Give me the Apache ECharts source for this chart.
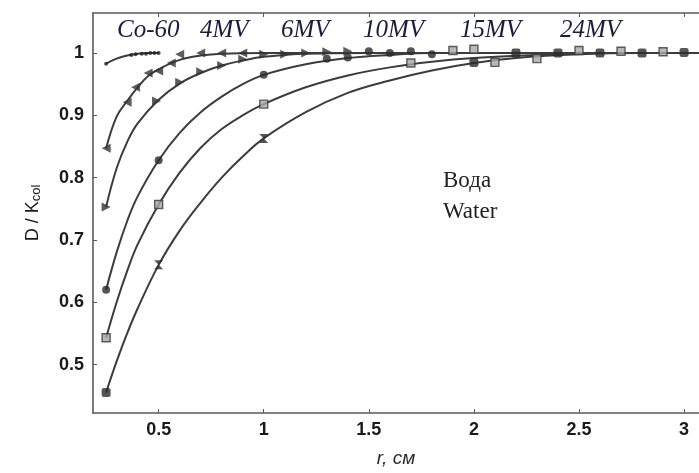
<!DOCTYPE html>
<html><head><meta charset="utf-8">
<script src="https://cdn.jsdelivr.net/npm/echarts@6/dist/echarts.min.js"></script>
<style>html,body{margin:0;padding:0;background:#fff}#c{width:699px;height:473px}</style>
</head><body><div id="c"></div>
<script>
// Tick labels
const xTicks = [0.5, 1, 1.5, 2, 2.5, 3];
const yTicks = [0.5, 0.6, 0.7, 0.8, 0.9, 1];
const beamLabels = ['Co-60', '4MV', '6MV', '10MV', '15MV', '24MV'];

// Fitted curves
const fitCoR = [0.25, 0.3, 0.35, 0.4, 0.45, 0.5];
const fitCoD = [0.983, 0.991, 0.996, 0.999, 1.0, 1.0];
const fit4R = [0.25, 0.3, 0.35, 0.4, 0.45, 0.5, 0.6, 0.7, 0.8, 1.0, 1.5, 2, 2.5, 3.07];
const fit4D = [0.847, 0.898, 0.923, 0.945, 0.963, 0.974, 0.989, 0.996, 0.999, 1.0, 1.0, 1.0, 1.0, 1.0];
const fit6R = [0.25, 0.3, 0.35, 0.4, 0.5, 0.6, 0.7, 0.8, 0.9, 1.0, 1.2, 1.5, 2, 3.07];
const fit6D = [0.753, 0.815, 0.857, 0.887, 0.925, 0.951, 0.968, 0.98, 0.988, 0.994, 0.999, 1.0, 1.0, 1.0];
const fit10R = [0.25, 0.3, 0.35, 0.4, 0.5, 0.6, 0.7, 0.8, 0.9, 1.0, 1.2, 1.4, 1.6, 1.8, 2.2, 3.07];
const fit10D = [0.62, 0.68, 0.73, 0.77, 0.828, 0.872, 0.905, 0.93, 0.95, 0.965, 0.982, 0.992, 0.997, 1.0, 1.0, 1.0];
const fit15R = [0.25, 0.3, 0.35, 0.4, 0.5, 0.6, 0.7, 0.8, 0.9, 1.0, 1.2, 1.4, 1.6, 1.8, 2.0, 2.3, 2.6, 3.07];
const fit15D = [0.543, 0.6, 0.65, 0.693, 0.757, 0.808, 0.848, 0.878, 0.9, 0.918, 0.945, 0.964, 0.977, 0.986, 0.992, 0.997, 1.0, 1.0];
const fit24R = [0.25, 0.3, 0.35, 0.4, 0.5, 0.6, 0.7, 0.8, 0.9, 1.0, 1.2, 1.4, 1.6, 1.8, 2.0, 2.2, 2.5, 2.8, 3.07];
const fit24D = [0.455, 0.505, 0.55, 0.59, 0.66, 0.715, 0.76, 0.8, 0.834, 0.863, 0.905, 0.936, 0.956, 0.972, 0.984, 0.992, 0.998, 1.0, 1.0];

// Measured points
const mCoR = [0.25, 0.37, 0.39, 0.42, 0.44, 0.46, 0.48, 0.5];
const mCoD = [0.983, 0.997, 0.998, 0.999, 0.999, 1.0, 1.0, 1.0];
const m4R = [0.25, 0.35, 0.39, 0.45, 0.5, 0.56, 0.6, 0.7, 0.8, 0.9];
const m4D = [0.847, 0.921, 0.945, 0.968, 0.971, 0.984, 0.998, 1.0, 1.0, 1.0];
const m6R = [0.25, 0.49, 0.6, 0.7, 0.8, 0.9, 1.0, 1.1, 1.2, 1.3, 1.4];
const m6D = [0.753, 0.923, 0.953, 0.97, 0.98, 0.99, 0.998, 0.998, 1.0, 1.002, 1.003];
const m10R = [0.25, 0.5, 1.0, 1.3, 1.4, 1.5, 1.6, 1.7, 1.8];
const m10D = [0.62, 0.828, 0.965, 0.991, 0.993, 1.003, 1.0, 1.003, 0.998];
const m15R = [0.25, 0.5, 1.0, 1.7, 1.9, 2.0, 2.1, 2.3, 2.5, 2.7, 2.9];
const m15D = [0.543, 0.757, 0.918, 0.984, 1.004, 1.006, 0.985, 0.991, 1.004, 1.003, 1.002];
const m24R = [0.25, 0.5, 1.0, 2.0, 2.2, 2.4, 2.6, 2.8, 3.0];
const m24D = [0.455, 0.66, 0.863, 0.985, 1.0, 1.0, 1.0, 1.0, 1.001];

const zip = (a, b) => a.map((v, i) => [v, b[i]]);
const hourglass = 'path://M0,0 L10,0 L5,5 L10,10 L0,10 L5,5 Z';

const lineColor = '#3c3c3c';
function fit(r, d) {
  return { type: 'line', data: zip(r, d), smooth: 0.4, symbol: 'none',
    lineStyle: { color: lineColor, width: 2 }, z: 2, silent: true };
}
function marks(r, d, opts) {
  return Object.assign({ type: 'scatter', data: zip(r, d), z: 3, silent: true }, opts);
}

const X0 = 0.1876, X1 = 3.071, Y0 = 0.4222, Y1 = 1.0643;
const axisCommon = {
  type: 'value', splitLine: { show: false },
  axisLine: { show: true, onZero: false, lineStyle: { color: '#5a5a5a', width: 1.6 } },
};
const tickFont = { color: '#1a1a1a', fontFamily: 'Liberation Sans', fontWeight: 'bold', fontSize: 18 };
const chart = echarts.init(document.getElementById('c'), null, { renderer: 'canvas' });
chart.setOption({
  animation: false,
  backgroundColor: '#fff',
  grid: { left: 93, top: 13, width: 607, height: 404, containLabel: false },
  xAxis: [
    Object.assign({}, axisCommon, {
      min: X0, max: X1, position: 'bottom',
      axisTick: { show: true, inside: true, length: 4, customValues: xTicks, lineStyle: { color: '#5a5a5a' } },
      axisLabel: Object.assign({ customValues: xTicks, margin: 8, formatter: v => String(v) }, tickFont),
      name: 'r, см', nameLocation: 'middle', nameGap: 36,
      nameTextStyle: { fontFamily: 'Liberation Sans', fontStyle: 'italic', fontSize: 19, color: '#2a2a2a' }
    }),
    Object.assign({}, axisCommon, {
      min: X0, max: X1, position: 'top',
      axisTick: { show: true, inside: true, length: 4, customValues: xTicks, lineStyle: { color: '#5a5a5a' } },
      axisLabel: { show: false }
    })
  ],
  yAxis: [
    Object.assign({}, axisCommon, {
      min: Y0, max: Y1, position: 'left',
      axisTick: { show: true, inside: true, length: 4, customValues: yTicks, lineStyle: { color: '#5a5a5a' } },
      axisLabel: Object.assign({ customValues: yTicks, margin: 9, formatter: v => String(v) }, tickFont),
      name: '{a|D / K}{s|col}', nameLocation: 'middle', nameGap: 50, nameRotate: 90,
      nameTextStyle: { rich: {
        a: { fontFamily: 'Liberation Sans', fontSize: 18, color: '#1a1a1a' },
        s: { fontFamily: 'Liberation Sans', fontSize: 13, color: '#1a1a1a', verticalAlign: 'bottom', padding: [7, 0, 0, 0] }
      } }
    })
  ],
  series: [
    fit(fitCoR, fitCoD), fit(fit4R, fit4D), fit(fit6R, fit6D),
    fit(fit10R, fit10D), fit(fit15R, fit15D), fit(fit24R, fit24D),
    marks(mCoR, mCoD, { symbol: 'circle', symbolSize: 4, itemStyle: { color: '#222' } }),
    marks(m4R, m4D, { symbol: 'triangle', symbolRotate: 90, symbolSize: 9, itemStyle: { color: '#333' } }),
    marks(m6R, m6D, { symbol: 'triangle', symbolRotate: -90, symbolSize: 9, itemStyle: { color: '#333' } }),
    marks(m10R, m10D, { symbol: 'circle', symbolSize: 8, itemStyle: { color: '#2a2a2a' } }),
    marks(m15R, m15D, { symbol: 'rect', symbolSize: 8, itemStyle: { color: '#a8a8a8', borderColor: '#3a3a3a', borderWidth: 1.4 } }),
    marks(m24R, m24D, { symbol: (v) => (v[0] > 0.4 && v[0] < 1.5 ? hourglass : 'roundRect'), symbolSize: 9,
      itemStyle: { color: '#2a2a2a' } })
  ],
  graphic: [
    { type: 'text', left: 117, top: 18, style: { text: beamLabels[0], font: 'italic 25px "Liberation Serif"', fill: '#1c1c3e' } },
    { type: 'text', left: 200, top: 18, style: { text: beamLabels[1], font: 'italic 25px "Liberation Serif"', fill: '#1c1c3e' } },
    { type: 'text', left: 281, top: 18, style: { text: beamLabels[2], font: 'italic 25px "Liberation Serif"', fill: '#1c1c3e' } },
    { type: 'text', left: 363, top: 18, style: { text: beamLabels[3], font: 'italic 25px "Liberation Serif"', fill: '#1c1c3e' } },
    { type: 'text', left: 460, top: 18, style: { text: beamLabels[4], font: 'italic 25px "Liberation Serif"', fill: '#1c1c3e' } },
    { type: 'text', left: 560, top: 18, style: { text: beamLabels[5], font: 'italic 25px "Liberation Serif"', fill: '#1c1c3e' } },
    { type: 'text', left: 443, top: 169, style: { text: 'Вода', font: '23px "Liberation Serif"', fill: '#222' } },
    { type: 'text', left: 443, top: 200, style: { text: 'Water', font: '23px "Liberation Serif"', fill: '#222' } }
  ]
});
</script></body></html>
